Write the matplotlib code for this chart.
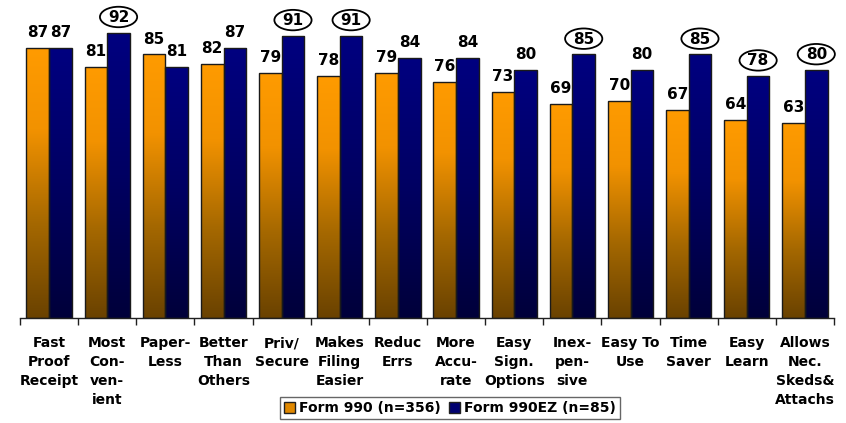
import matplotlib
matplotlib.use("Agg")
import matplotlib.pyplot as plt
import numpy as np
from matplotlib.patches import Patch, Ellipse
from matplotlib.colors import LinearSegmentedColormap

categories = ["Fast\nProof\nReceipt", "Most\nCon-\nven-\nient", "Paper-\nLess", "Better\nThan\nOthers",
              "Priv/\nSecure", "Makes\nFiling\nEasier", "Reduc\nErrs", "More\nAccu-\nrate",
              "Easy\nSign.\nOptions", "Inex-\npen-\nsive", "Easy To\nUse", "Time\nSaver",
              "Easy\nLearn", "Allows\nNec.\nSkeds&\nAttachs"]
form990 = [87, 81, 85, 82, 79, 78, 79, 76, 73, 69, 70, 67, 64, 63]
form990ez = [87, 92, 81, 87, 91, 91, 84, 84, 80, 85, 80, 85, 78, 80]
circled = [False, True, False, False, True, True, False, False, False, True, False, True, True, True]
series_names = ["Form 990 (n=356)", "Form 990EZ (n=85)"]

plt.rcParams['font.family'] = ['DejaVu Sans']

fig = plt.figure(figsize=(8.46, 4.23), dpi=100)
ax = fig.add_axes([20/846, 105/423, 814/846, 310/423])

n = len(categories)
x = np.arange(n)
w = 0.39

orange_cmap = LinearSegmentedColormap.from_list(
    "o", [(0.0, "#6a4200"), (0.35, "#a56800"), (0.7, "#f29200"), (1.0, "#ff9b00")])
navy_cmap = LinearSegmentedColormap.from_list(
    "n", [(0.0, "#00003a"), (0.5, "#000062"), (1.0, "#000080")])
grad = np.linspace(0, 1, 256).reshape(-1, 1)

def draw_bars(xs, vals, cmap):
    bars = ax.bar(xs, vals, width=w, color='none', edgecolor='#1a1a1a', linewidth=1.0, zorder=3)
    for b in bars:
        x0 = b.get_x()
        im = ax.imshow(grad, extent=[x0, x0 + b.get_width(), 0, b.get_height()], origin='lower',
                       cmap=cmap, aspect='auto', zorder=2)
        im.set_clip_path(b)
    return bars

draw_bars(x - w/2, form990, orange_cmap)
draw_bars(x + w/2, form990ez, navy_cmap)

off = 5.0
for i in range(n):
    ax.text(x[i] - w/2, form990[i] + off, str(form990[i]), ha='center', va='center',
            fontsize=11, fontweight='bold', zorder=5)
    ax.text(x[i] + w/2, form990ez[i] + off, str(form990ez[i]), ha='center', va='center',
            fontsize=11, fontweight='bold', zorder=6)
    if circled[i]:
        ax.add_patch(Ellipse((x[i] + w/2, form990ez[i] + off + 0.1), width=0.64, height=6.6,
                             facecolor='white', edgecolor='black', linewidth=1.3, zorder=5,
                             clip_on=False))

ax.set_xlim(-0.5, n - 0.5)
ax.set_ylim(0, 100)
for s in ['top', 'right', 'left']:
    ax.spines[s].set_visible(False)
ax.spines['bottom'].set_linewidth(1.0)
ax.spines['bottom'].set_color('#202020')
ax.set_yticks([])
ax.set_xticks(np.arange(-0.5, n, 1.0))
ax.set_xticklabels([])
ax.tick_params(axis='x', length=5, width=1, color='#202020')
ax.set_xticks(x, minor=True)
ax.set_xticklabels(categories, minor=True, fontsize=10, fontweight='bold', linespacing=1.45, va='top')
ax.tick_params(axis='x', which='minor', length=0, pad=13)

handles = [Patch(facecolor='#e08800', edgecolor='#202020', label=series_names[0]),
           Patch(facecolor='#000070', edgecolor='#202020', label=series_names[1])]
leg = fig.legend(handles=handles, loc='upper center', bbox_to_anchor=(0.532, 0.078), ncol=2,
                 frameon=True, fancybox=False, edgecolor='#404040', handlelength=0.8, handleheight=0.8,
                 handletextpad=0.3, columnspacing=0.6, borderpad=0.3,
                 prop={'weight': 'bold', 'size': 10})
leg.get_frame().set_linewidth(1.0)

fig.savefig("out.png", dpi=100)
